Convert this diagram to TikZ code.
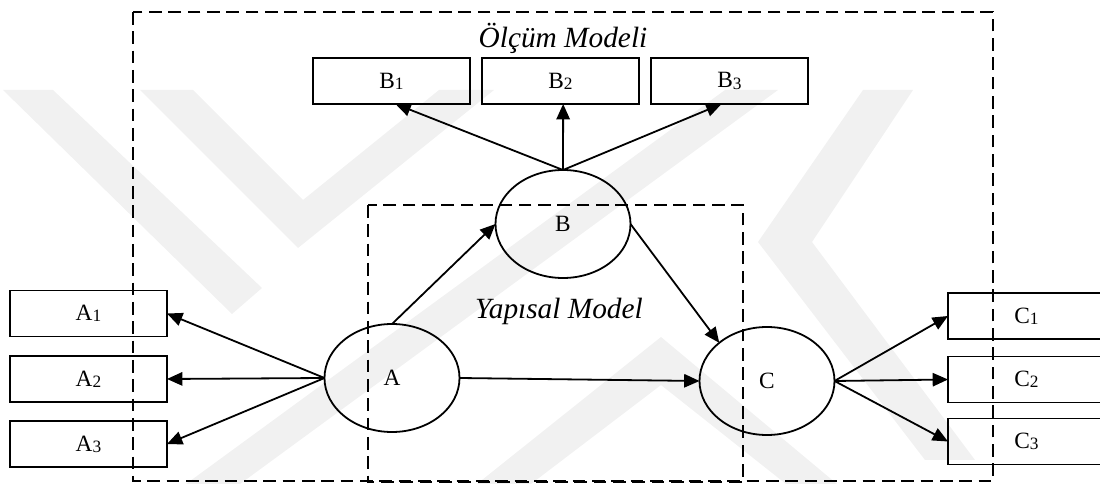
\documentclass[tikz,border=0pt]{standalone}
\usepackage{fontspec}
\setmainfont{Liberation Serif}[ItalicFont={Liberation Serif Italic},BoldFont={Liberation Serif Bold}]
\usetikzlibrary{shapes.geometric,arrows.meta}
\definecolor{wm}{RGB}{241,241,241}
\newcommand{\lbsub}[1]{\raisebox{-0.9pt}{\fontsize{13}{13}\selectfont #1}}
\begin{document}
\begin{tikzpicture}[x=0.75pt,y=-0.75pt,
  box/.style={draw,line width=1.35pt,rectangle,minimum width=117.75pt,minimum height=34.5pt,inner sep=0pt,outer sep=0pt,font=\fontsize{17.5}{18}\selectfont},
  lat/.style={draw,line width=1.35pt,ellipse,minimum width=101.25pt,minimum height=81pt,inner sep=0pt,outer sep=0pt,font=\fontsize{17.5}{18}\selectfont},
  arr/.style={line width=1.35pt,-{Triangle[length=11.5pt,width=10pt]}},
  frame/.style={line width=1.35pt,dash pattern=on 9.5pt off 5pt},
  title/.style={font=\fontsize{22}{24}\selectfont\itshape,inner sep=0pt,anchor=base},
  wmark/.style={fill=wm,draw=none}]
\clip (0,0) rectangle (1100,484);
\useasboundingbox (0,0) rectangle (1100,484);
% watermark
\fill[wmark] (3,90) -- (53,90) -- (262,288) -- (232,314) -- cycle;
\fill[wmark] (140,90) -- (193,90) -- (303,200) -- (439,90) -- (494,90) -- (298,248) -- cycle;
\fill[wmark] (186,484) -- (240,484) -- (778,90) -- (725,90) -- cycle;
\fill[wmark] (477,484) -- (661,337) -- (837,484) -- (786,484) -- (661,385) -- (531,484) -- cycle;
\fill[wmark] (863,90) -- (913,90) -- (812,242) -- (975,460) -- (925,460) -- (758,242) -- cycle;
% frames
\draw[frame] (133,12) rectangle (993,481);
\draw[frame] (368,205) rectangle (743,482);
% titles
\node[title] (t1) at (563,48) {Ölçüm Modeli};
\node[title] (t2) at (559,319) {Yapısal Model};
% indicator boxes
\node[box] (A1) at (88.5,313.5) {A\lbsub{1}};
\node[box] (A2) at (88.5,379) {A\lbsub{2}};
\node[box] (A3) at (88.5,444) {A\lbsub{3}};
\node[box] (B1) at (391.5,81) {B\lbsub{1}};
\node[box] (B2) at (560.5,81) {B\lbsub{2}};
\node[box] (B3) at (729.5,81) {B\lbsub{3}};
\node[box] (C1) at (1026.5,316) {C\lbsub{1}};
\node[box] (C2) at (1026.5,379.5) {C\lbsub{2}};
\node[box] (C3) at (1026.5,441.5) {C\lbsub{3}};
% latent variables
\node[lat] (A) at (392,378) {A};
\node[lat] (B) at (563,224) {B};
\node[lat] (C) at (767,381) {C};
% connectors
\draw[arr] (A.west) -- (A1.east);
\draw[arr] (A.west) -- (A2.east);
\draw[arr] (A.west) -- (A3.east);
\draw[arr] (B.north) -- ([xshift=3pt]B1.south);
\draw[arr] (B.north) -- ([xshift=2pt]B2.south);
\draw[arr] (B.north) -- ([xshift=-6pt]B3.south);
\draw[arr] (A.north) -- (B.west);
\draw[arr] (B.east) -- (C.north west);
\draw[arr] (A.east) -- (C.west);
\draw[arr] (C.east) -- (C1.west);
\draw[arr] (C.east) -- (C2.west);
\draw[arr] (C.east) -- (C3.west);
\end{tikzpicture}
\end{document}
